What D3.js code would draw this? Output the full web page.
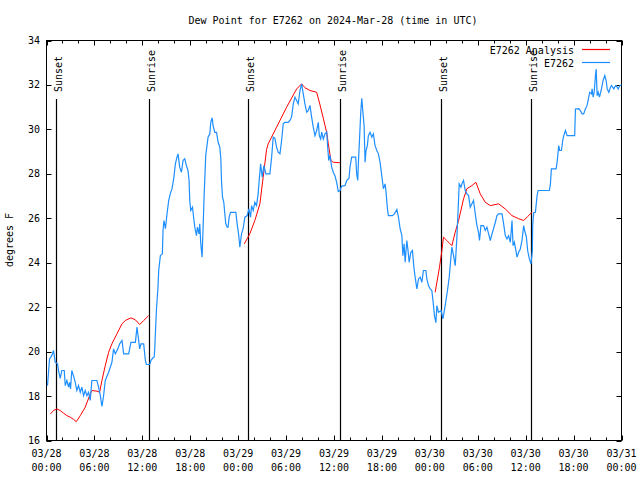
<!DOCTYPE html>
<html><head><meta charset="utf-8">
<script src="https://cdn.jsdelivr.net/npm/d3@7"></script>
<style>body{margin:0;background:#fff}svg{display:block}text{font-family:"DejaVu Sans Mono",monospace;font-size:10px;fill:#000}</style>
</head><body><svg id="c" width="640" height="480"></svg>
<script>
// hours since 2024-03-28 00:00 UTC
const obsHours = [0.125,0.38,0.66,0.88,1.09,1.38,1.5,1.72,1.92,2.22,2.35,2.55,2.76,2.89,3.01,3.17,3.39,3.6,3.8,4.01,4.23,4.43,4.64,4.85,5.06,5.27,5.48,5.68,6.31,6.52,6.74,6.94,7.15,7.36,7.78,8.19,8.4,8.62,8.9,9.16,9.45,9.66,10.29,10.57,11.13,11.33,11.67,11.83,12.17,12.38,12.51,12.92,13.08,13.33,13.48,13.55,13.76,13.96,14.05,14.26,14.51,14.59,14.71,14.89,15.09,15.3,15.52,15.72,15.93,16.14,16.34,16.47,16.68,16.9,17.1,17.31,17.52,17.72,17.85,17.94,18.06,18.28,18.44,18.57,18.78,18.9,19.1,19.19,19.32,19.48,19.61,19.73,19.94,20.23,20.45,20.57,20.74,20.86,21.07,21.29,21.49,21.7,21.83,21.91,22.04,22.2,22.33,22.45,22.62,22.74,22.87,23.04,23.71,23.87,24.05,24.21,24.42,24.62,24.84,25.13,25.34,25.55,25.68,25.88,26.09,26.3,26.5,26.63,26.81,27.01,27.22,27.47,27.97,28.19,28.39,28.6,28.81,29.01,29.23,29.44,29.64,29.85,30.27,30.48,30.69,30.9,31.11,31.32,31.52,31.74,31.95,32.15,32.36,32.58,32.78,32.99,33.2,33.4,33.62,33.83,34.03,34.16,34.33,34.46,34.66,34.87,35.09,35.21,35.34,35.5,35.71,35.91,36.13,36.34,36.54,36.75,36.96,37.38,37.59,37.88,38.0,38.21,38.72,38.84,38.97,39.05,39.17,39.35,39.48,39.6,39.77,39.89,40.01,40.18,40.3,40.52,40.73,40.93,41.14,41.36,41.56,41.77,41.98,42.19,42.4,42.52,42.69,42.81,43.31,43.57,43.87,44.07,44.28,44.5,44.62,44.78,44.91,45.12,45.25,45.41,45.62,45.82,46.0,46.16,46.38,46.58,46.79,47.0,47.2,47.5,47.63,47.83,48.04,48.25,48.46,48.58,48.76,48.88,49.08,49.42,49.63,49.71,49.92,50.21,50.43,50.64,50.76,50.97,51.18,51.39,51.52,51.68,51.89,52.02,52.22,52.43,52.64,52.85,53.06,53.27,53.47,53.69,53.9,54.1,54.22,54.4,54.73,54.94,55.15,55.36,55.57,55.78,55.98,56.2,56.41,56.61,57.04,57.24,57.45,57.66,57.86,58.08,58.29,58.42,58.58,58.74,58.92,59.12,59.33,59.54,59.75,59.87,60.09,60.25,60.46,60.67,60.84,60.88,61.0,61.22,61.43,61.56,62.97,63.1,63.22,63.81,63.94,64.14,64.26,64.48,64.64,64.77,64.98,65.19,66.14,66.23,66.64,66.85,67.06,67.26,67.48,67.69,67.9,68.02,68.24,68.32,68.45,68.58,68.74,68.83,68.95,69.08,69.24,69.49,69.7,69.91,70.08,70.21,70.41,70.62,70.75,71.04,71.25,71.46,71.59,71.79,72.0];
const obsValues = [18.47,19.67,19.82,20.05,19.52,19.45,19.15,18.8,19.15,19.15,18.47,18.7,18.4,18.62,18.32,19.15,18.9,18.62,18.25,18.47,18.17,18.4,18.02,18.25,18.02,18.17,17.8,18.7,18.7,18.4,18.02,17.53,18.02,18.7,19.07,19.52,20.12,19.9,20.1,20.35,20.5,19.9,19.9,20.42,20.42,21.1,20.12,20.35,20.35,19.6,19.42,19.42,19.6,19.72,19.75,20.1,21.85,22.9,23.65,24.32,24.4,25.45,25.9,25.53,26.2,26.8,27.13,27.33,27.78,28.45,28.75,28.9,28.3,28.07,28.6,28.68,28.37,28.15,27.7,26.8,26.35,26.5,25.98,25.6,25.22,25.6,25.3,25.75,24.85,24.25,25.6,26.95,28.83,29.65,29.8,30.32,30.52,30.17,29.87,29.87,29.42,29.2,28.68,27.7,26.95,26.72,26.2,25.75,25.6,25.6,26.05,26.27,26.27,25.75,25.3,24.7,25.3,25.53,26.05,26.12,26.42,26.05,26.57,26.35,26.72,26.57,27.1,27.7,28.45,27.85,28.37,28.0,28.0,28.75,29.65,29.6,29.2,28.97,28.9,29.5,30.25,30.32,30.32,30.4,30.55,31.15,31.45,31.3,31.15,31.75,32.05,31.6,31.15,30.77,30.85,31.08,30.55,30.1,29.72,29.95,30.32,29.72,29.57,29.88,29.57,29.8,29.88,29.2,28.6,28.83,28.3,28.07,27.9,27.6,27.2,27.25,27.45,27.47,27.7,27.8,28.3,28.75,28.75,28.0,27.7,28.45,29.35,30.77,31.4,30.85,30.17,28.52,29.05,29.27,29.72,29.87,29.65,29.8,29.27,29.05,28.9,28.52,27.92,27.33,27.55,27.17,26.42,26.12,26.12,26.2,26.4,26.05,25.53,25.22,24.32,24.85,24.02,25.0,24.62,24.02,24.47,24.55,23.8,23.35,22.82,23.27,23.35,23.12,23.65,23.65,23.27,22.97,22.82,22.75,22.07,21.62,21.3,22.07,21.77,21.85,21.47,21.62,22.07,22.75,23.35,24.25,24.7,24.32,23.87,25.15,26.2,27.55,27.4,27.55,27.7,27.25,27.1,27.03,26.5,26.65,26.8,26.2,25.67,25.37,25.0,25.67,25.67,25.45,25.6,25.3,25.0,25.3,25.53,25.82,26.12,26.2,26.2,25.75,25.22,25.07,25.22,24.92,25.9,24.77,24.92,24.62,24.25,24.47,24.62,25.0,25.67,25.45,25.15,24.55,24.17,23.95,24.55,25.67,26.25,26.27,27.02,27.25,27.25,27.55,28.22,28.22,28.52,29.27,29.05,29.05,29.5,29.72,29.95,29.72,29.72,30.92,30.93,30.85,30.7,30.7,30.92,31.08,31.45,31.67,31.6,31.82,31.45,31.67,32.42,32.72,31.52,31.67,31.45,31.82,32.2,32.42,32.2,31.82,31.67,31.9,31.97,31.82,31.97,31.9,31.82,31.97,32.0];

const analysisHours1 = [0.5,0.88,1.29,1.72,2.13,2.55,2.97,3.39,3.73,4.23,4.85,5.48,5.68,6.31,6.65,6.94,7.36,7.78,8.19,8.82,9.45,9.87,10.57,11.13,11.67,12.17,12.79];
const analysisValues1 = [17.2,17.35,17.42,17.35,17.23,17.12,17.05,16.95,16.85,17.12,17.5,18.1,18.25,18.22,18.17,18.7,19.37,19.97,20.35,20.8,21.25,21.4,21.52,21.43,21.22,21.4,21.62];
const analysisHours2 = [24.77,25.46,26.09,26.72,27.13,27.56,27.76,28.81,30.07,31.32,31.95,32.36,32.99,33.83,34.25,34.66,35.09,35.29,35.62,35.91,36.75];
const analysisValues2 = [24.85,25.3,25.9,26.65,27.85,29.1,29.35,30.1,31.0,31.82,32.05,31.88,31.75,31.67,31.1,30.5,29.85,29.35,28.6,28.52,28.5];
const analysisHours3 = [48.67,49.21,49.51,49.71,50.13,50.76,51.18,51.6,52.22,52.64,53.27,53.77,54.31,54.94,55.57,56.61,57.45,58.29,59.12,59.75,60.25,60.8];
const analysisValues3 = [22.67,23.8,24.55,25.15,25.0,24.77,25.37,25.9,26.87,27.33,27.47,27.62,27.1,26.72,26.57,26.65,26.42,26.12,25.98,25.9,26.08,26.27];

const sunHours = [1.15,12.83,25.25,36.75,49.38,60.71];
const sunLabels = ["Sunset","Sunrise","Sunset","Sunrise","Sunset","Sunrise"];

const xTickHours = [0,6,12,18,24,30,36,42,48,54,60,66,72];
const xTickDates = ["03/28","03/28","03/28","03/28","03/29","03/29","03/29","03/29","03/30","03/30","03/30","03/30","03/31"];
const xTickTimes = ["00:00","06:00","12:00","18:00","00:00","06:00","12:00","18:00","00:00","06:00","12:00","18:00","00:00"];
const yTicks = [16,18,20,22,24,26,28,30,32,34];

const titleText = "Dew Point for E7262 on 2024-Mar-28 (time in UTC)";
const yLabel = "degrees F";
const seriesNames = ["E7262 Analysis","E7262"];
const seriesColors = ["#ff0000","#1e8fff"];

const L=46.5,R=621.5,T=40.5,B=440.5;
const x = d3.scaleLinear().domain([0,72]).range([L,R]);
const y = d3.scaleLinear().domain([16,34]).range([B,T]);
const svg = d3.select("#c");

// frame
svg.append("rect").attr("x",L).attr("y",T).attr("width",R-L).attr("height",B-T)
  .attr("fill","none").attr("stroke","#000").attr("stroke-width",1);

// x ticks (major + minor), mirrored top
const minor = d3.range(0,73,2).filter(h=>h%6!==0);
const tk = svg.append("g").attr("stroke","#000").attr("stroke-width",1);
xTickHours.forEach(h=>{
  const xx=Math.round(x(h))+0.5;
  tk.append("line").attr("x1",xx).attr("x2",xx).attr("y1",B).attr("y2",B-5);
  tk.append("line").attr("x1",xx).attr("x2",xx).attr("y1",T).attr("y2",T+5);
});
minor.forEach(h=>{
  const xx=Math.round(x(h))+0.5;
  tk.append("line").attr("x1",xx).attr("x2",xx).attr("y1",B).attr("y2",B-3);
  tk.append("line").attr("x1",xx).attr("x2",xx).attr("y1",T).attr("y2",T+3);
});
yTicks.forEach(v=>{
  const yy=Math.round(y(v))+0.5;
  tk.append("line").attr("x1",L).attr("x2",L+5).attr("y1",yy).attr("y2",yy);
  tk.append("line").attr("x1",R).attr("x2",R-5).attr("y1",yy).attr("y2",yy);
});

// tick labels
xTickHours.forEach((h,i)=>{
  svg.append("text").attr("x",x(h)).attr("y",457).attr("text-anchor","middle").text(xTickDates[i]);
  svg.append("text").attr("x",x(h)).attr("y",471).attr("text-anchor","middle").text(xTickTimes[i]);
});
yTicks.forEach(v=>{
  svg.append("text").attr("x",40).attr("y",y(v)+3.5).attr("text-anchor","end").text(v);
});

// title & y label
svg.append("text").attr("x",333).attr("y",24).attr("text-anchor","middle").text(titleText);
svg.append("text").attr("transform","translate(13,240) rotate(-90)").attr("text-anchor","middle").text(yLabel);

// sun lines
sunHours.forEach((h,i)=>{
  const xx=Math.round(x(h))+0.5;
  svg.append("line").attr("x1",xx).attr("x2",xx).attr("y1",99).attr("y2",B)
    .attr("stroke","#000").attr("stroke-width",1.2);
  svg.append("text").attr("transform",`translate(${xx+5},92) rotate(-90)`)
    .attr("text-anchor","start").text(sunLabels[i]);
});

const line = d3.line().x(d=>x(d[0])).y(d=>y(d[1]));
[[analysisHours1,analysisValues1],[analysisHours2,analysisValues2],[analysisHours3,analysisValues3]].forEach(([hs,vs])=>{
  svg.append("path").datum(hs.map((h,i)=>[h,vs[i]])).attr("d",line)
    .attr("fill","none").attr("stroke",seriesColors[0]).attr("stroke-width",1);
});
svg.append("path").datum(obsHours.map((h,i)=>[h,obsValues[i]])).attr("d",line)
  .attr("fill","none").attr("stroke",seriesColors[1]).attr("stroke-width",1.2);

// legend
seriesNames.forEach((n,i)=>{
  const ly=50+i*13;
  svg.append("text").attr("x",574).attr("y",ly+3.5).attr("text-anchor","end").text(n);
  svg.append("line").attr("x1",582).attr("x2",610).attr("y1",ly-0.5).attr("y2",ly-0.5)
    .attr("stroke",seriesColors[i]).attr("stroke-width",1.2);
});
</script></body></html>
